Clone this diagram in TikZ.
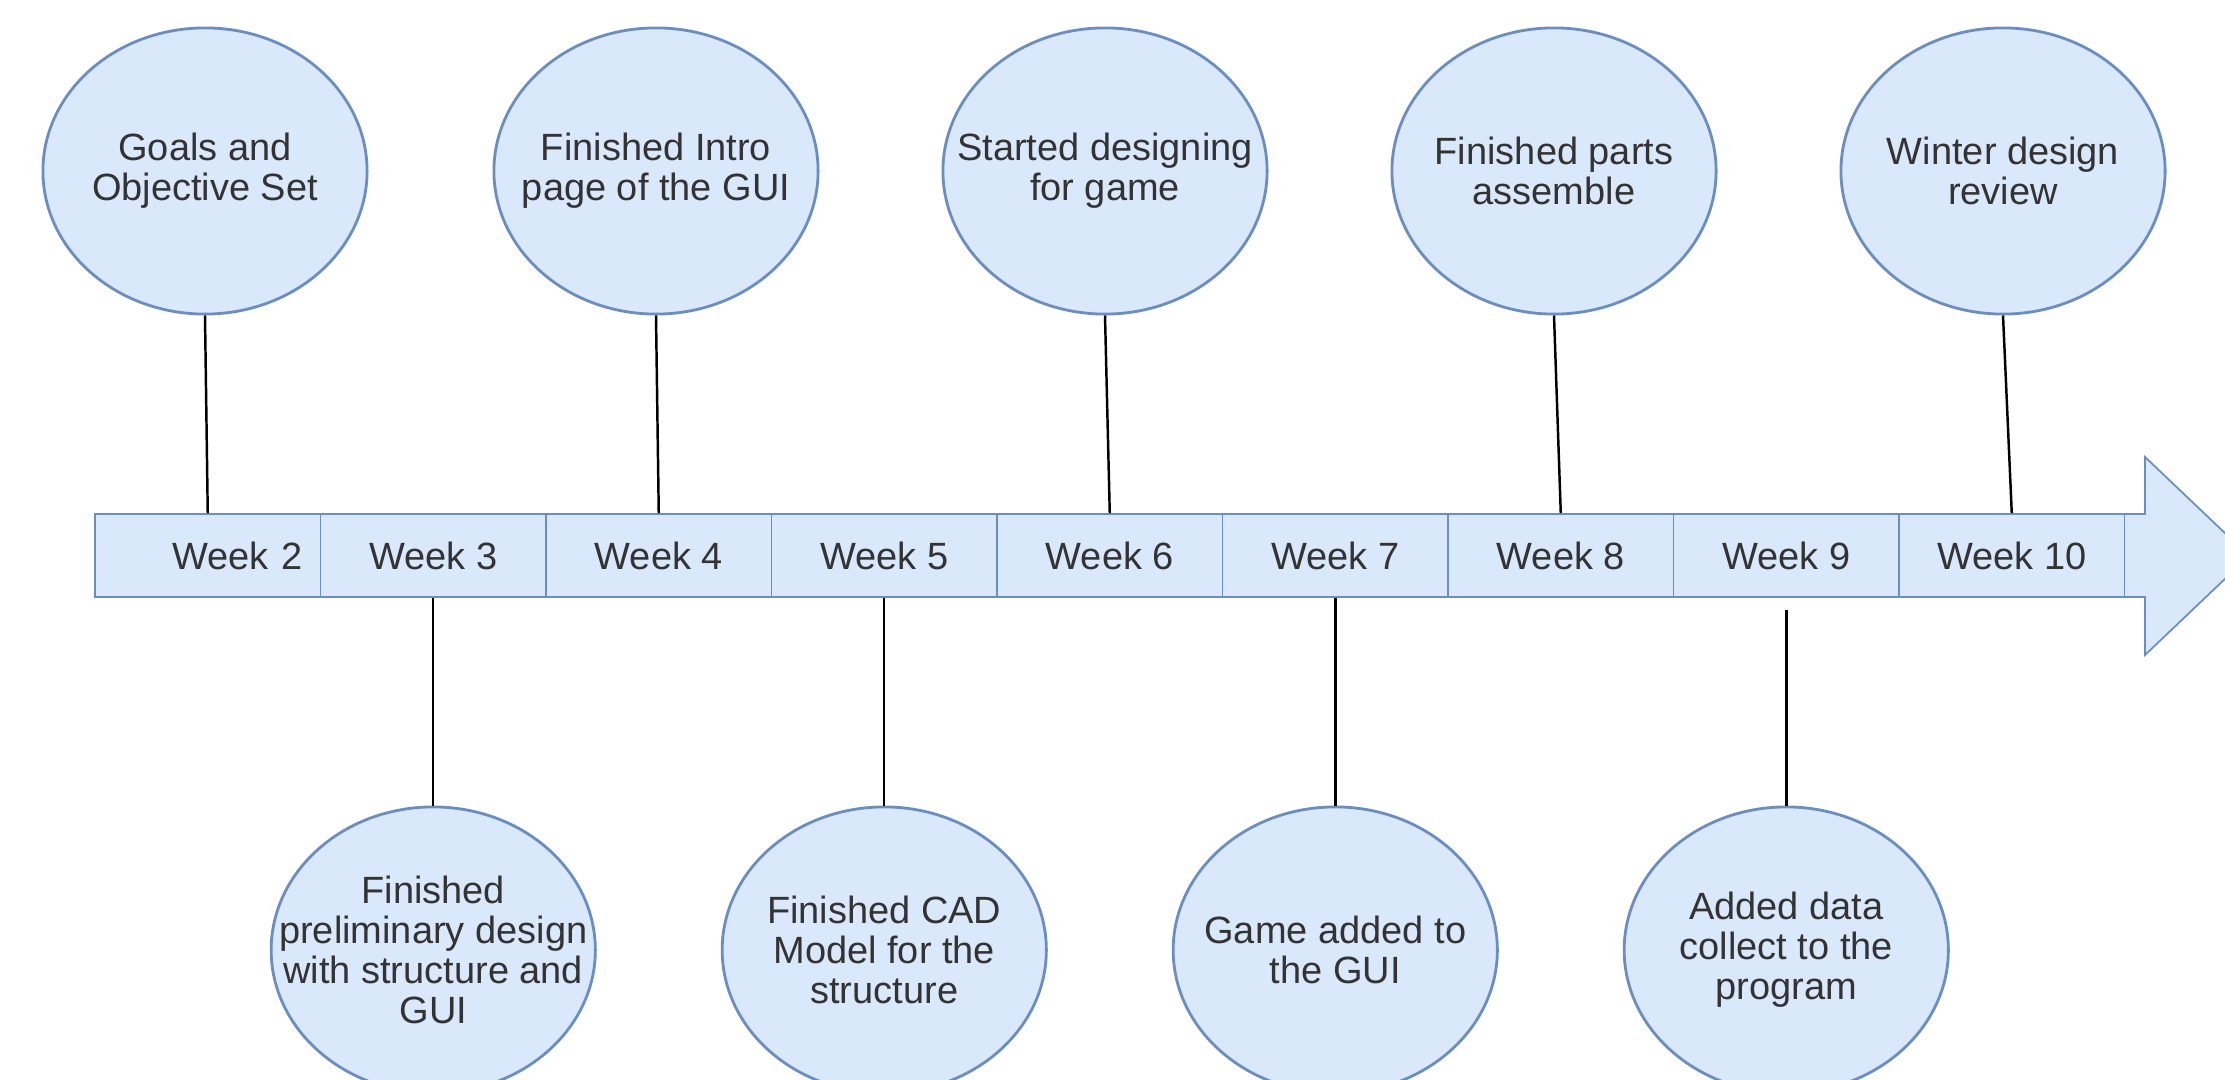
\documentclass[tikz,border=0pt]{standalone}
\usepackage{fontspec}
\setmainfont{Liberation Sans}
\usepackage{tikz}
\usetikzlibrary{shapes.geometric,positioning}

\definecolor{boxfill}{HTML}{DAE8FC}
\definecolor{boxline}{HTML}{6C8EBF}
\definecolor{boxtext}{HTML}{333333}

\begin{document}
\begin{tikzpicture}[x=0.01cm, y=-0.01cm,
  week/.style={draw=boxline, fill=boxfill, line width=0.5pt, minimum width=2.255cm,
    minimum height=0.83cm, inner sep=0pt, text=boxtext, font=\fontsize{10.8}{11.4}\selectfont},
  event/.style={ellipse, draw=boxline, fill=boxfill, line width=0.8pt, minimum width=3.24cm,
    minimum height=2.86cm, inner sep=-0.65cm, align=center, text=boxtext,
    font=\fontsize{10.8}{11.4}\selectfont},
  link/.style={draw=black, line width=0.7pt}]
%%%%% Frame %%%%%
\useasboundingbox (0,0) rectangle (2225,1079);
\clip (0,0) rectangle (2225,1079);
%%%%% Arrow %%%%%
\draw[draw=boxline, fill=boxfill, line width=0.5pt] (2100,514)--(2145,514)--(2145,457)--(2249,556)--(2145,655)--(2145,597)--(2100,597);
%%%%% Weeks %%%%%
\node[week, text width=1.895cm, align=right, inner xsep=0.18cm] (w2) at (207.75,555.5) {Week 2};
\foreach \w [count=\i from 1] in {3,...,10}
  \node[week] (w\w) at ({207.75+225.5*\i},555.5) {Week \w};
%%%%% Events above %%%%%
\node[event] (e2) at (205,171) {Goals and\\Objective Set};
\node[event] (e4) at (656,171) {Finished Intro\\page of the GUI};
\node[event] (e6) at (1105,171) {Started designing\\for game};
\node[event] (e8) at (1554,171) {Finished parts\\assemble};
\node[event] (e10) at (2003,171) {Winter design\\review};
%%%%% Events below %%%%%
\node[event] (e3) at (433.25,950) {Finished\\preliminary design\\with structure and\\GUI};
\node[event] (e5) at (884.25,950) {Finished CAD\\Model for the\\structure};
\node[event] (e7) at (1335.25,950) {Game added to\\the GUI};
\node[event] (e9) at (1786.25,950) {Added data\\collect to the\\program};
%%%%% Links %%%%%
\foreach \w in {2,4,6,8,10}
  \draw[link] (e\w.south) -- (w\w.north);
\foreach \w in {3,5,7}
  \draw[link] (w\w.south) -- (e\w.north);
\draw[link, shorten <=0.12cm] (w9.south) -- (e9.north);
\end{tikzpicture}
\end{document}
